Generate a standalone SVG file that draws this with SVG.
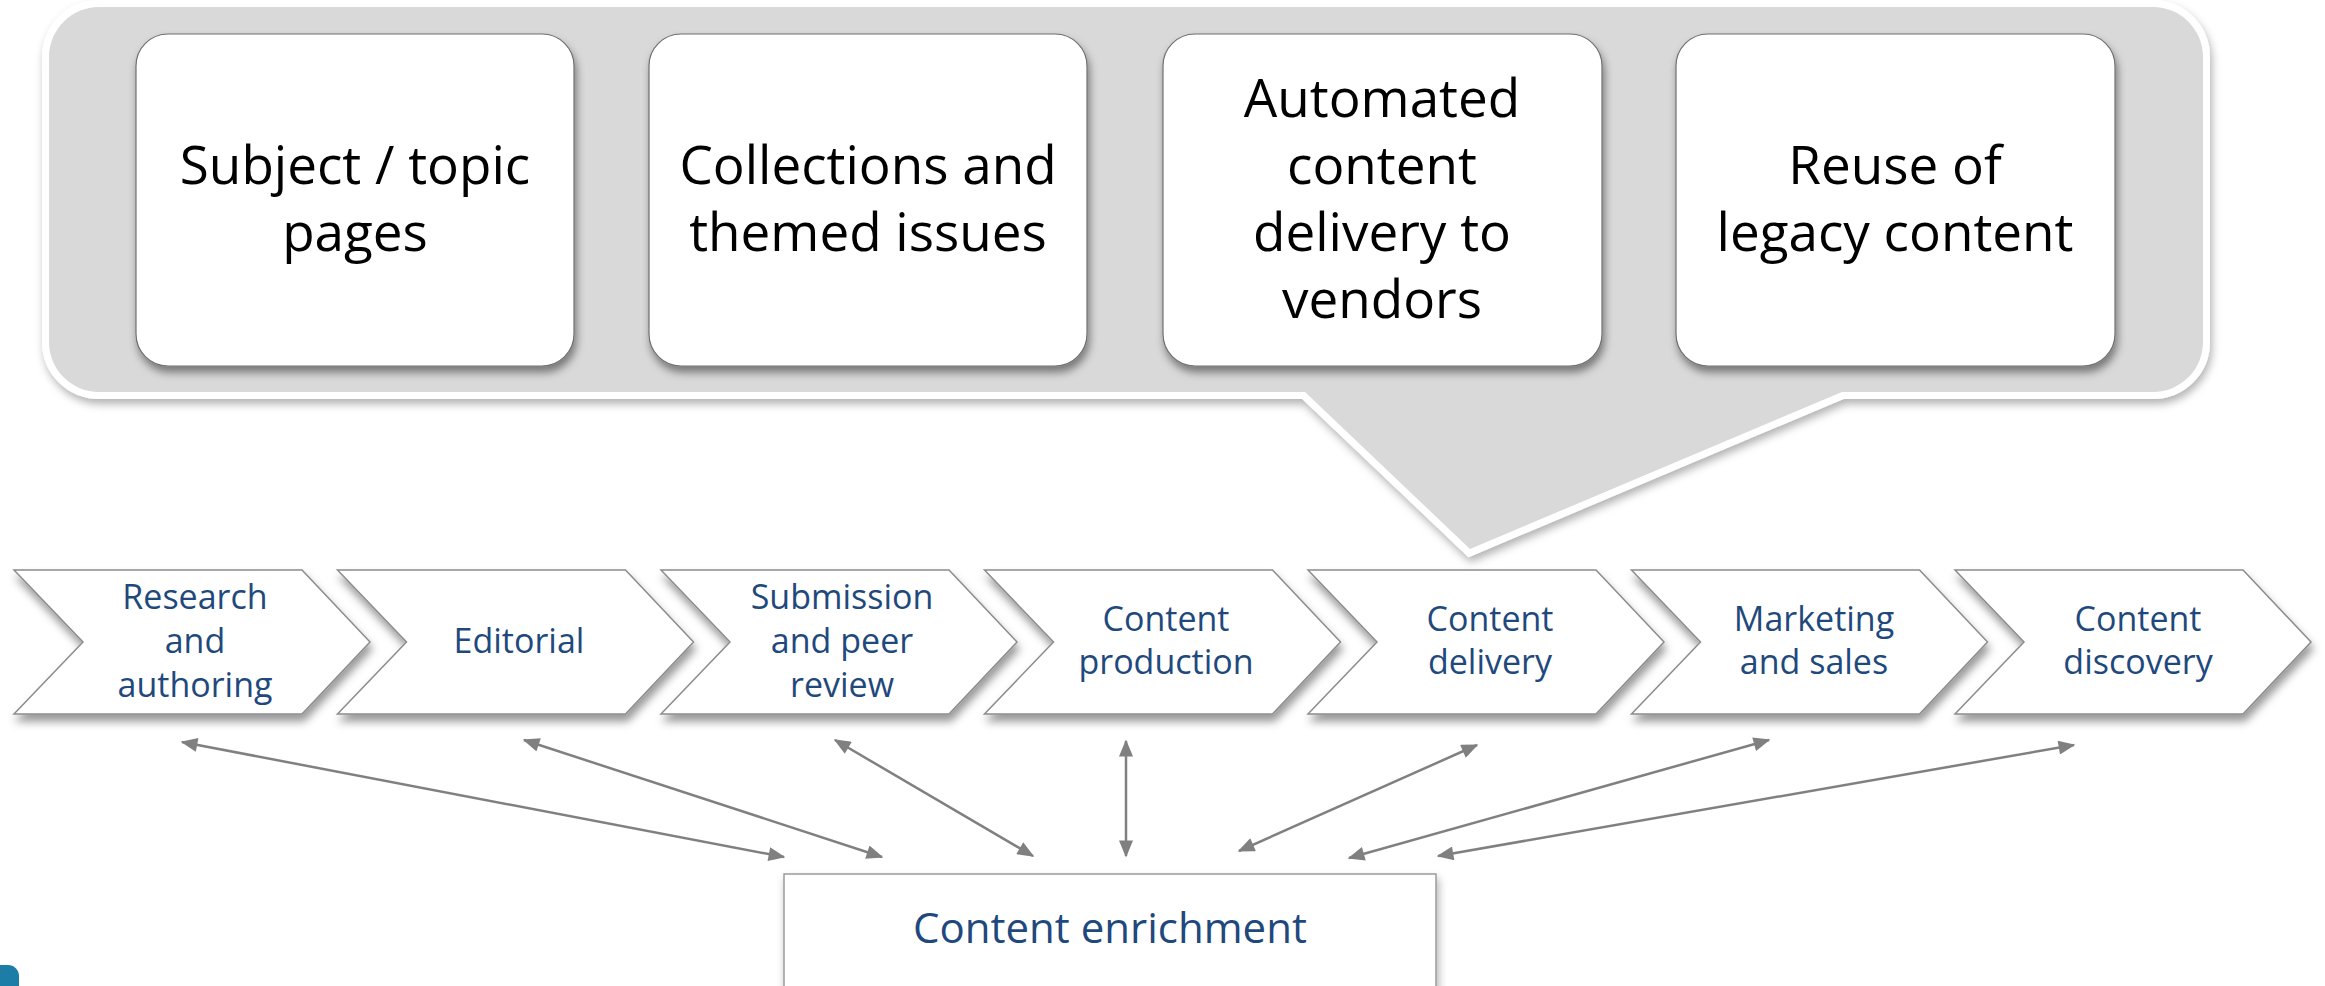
<svg xmlns="http://www.w3.org/2000/svg" width="2325" height="986" viewBox="0 0 2325 986">
<defs>
<style>
.box{fill:#fff;stroke:#6f6f6f;stroke-width:1.2;filter:url(#sh)}
.btxt{font-family:"Open Sans","Liberation Sans",sans-serif;font-size:53px;fill:#000;text-anchor:middle}
.chev{fill:#fff;stroke:#8c8c8c;stroke-width:1.5;filter:url(#sh2)}
.ctxt{font-family:"Open Sans","Liberation Sans",sans-serif;font-size:34px;fill:#1F497D;text-anchor:middle}
.conn{stroke:#808080;stroke-width:2.5;fill:none;marker-start:url(#ah);marker-end:url(#ah)}
</style>
<filter id="sh" x="-10%" y="-10%" width="120%" height="125%">
<feDropShadow dx="2" dy="6" stdDeviation="4" flood-color="#000" flood-opacity="0.45"/>
</filter>
<filter id="sh2" x="-10%" y="-10%" width="120%" height="130%">
<feDropShadow dx="2" dy="7" stdDeviation="4" flood-color="#000" flood-opacity="0.4"/>
</filter>
<filter id="sh3" x="-5%" y="-5%" width="110%" height="115%">
<feDropShadow dx="2" dy="5" stdDeviation="4" flood-color="#000" flood-opacity="0.3"/>
</filter>
<marker id="ah" viewBox="0 0 12 10" refX="11" refY="5" markerUnits="userSpaceOnUse" markerWidth="18" markerHeight="14" orient="auto-start-reverse">
<path d="M0,0 L12,5 L0,10 Z" fill="#808080"/>
</marker>
</defs>

<g id="callout">
<path d="M 99 7 H 2153 A 50 50 0 0 1 2203 57 V 342 A 50 50 0 0 1 2153 392 H 1842 L 1470 549 L 1305 392 H 99 A 50 50 0 0 1 49 342 V 57 A 50 50 0 0 1 99 7 Z" fill="#D9D9D9" stroke="#fff" stroke-width="14" paint-order="stroke" filter="url(#sh3)"/>
</g>

<g id="box-subject">
<rect class="box" x="136" y="34" width="438" height="332" rx="32"/>
<text class="btxt" x="355" y="184">Subject / topic</text>
<text class="btxt" x="355" y="251">pages</text>
</g>
<g id="box-collections">
<rect class="box" x="649" y="34" width="438" height="332" rx="32"/>
<text class="btxt" x="868" y="184">Collections and</text>
<text class="btxt" x="868" y="251">themed issues</text>
</g>
<g id="box-automated">
<rect class="box" x="1163" y="34" width="439" height="332" rx="32"/>
<text class="btxt" x="1382" y="117">Automated</text>
<text class="btxt" x="1382" y="184">content</text>
<text class="btxt" x="1382" y="251">delivery to</text>
<text class="btxt" x="1382" y="318">vendors</text>
</g>
<g id="box-reuse">
<rect class="box" x="1676" y="34" width="439" height="332" rx="32"/>
<text class="btxt" x="1895" y="184">Reuse of</text>
<text class="btxt" x="1895" y="251">legacy content</text>
</g>

<g id="chev-research">
<path class="chev" d="M14,570 H302 L370,642 L302,714 H14 L83,642 Z"/>
<text class="ctxt" x="195" y="609">Research</text>
<text class="ctxt" x="195" y="653">and</text>
<text class="ctxt" x="195" y="697">authoring</text>
</g>
<g id="chev-editorial">
<path class="chev" d="M337.5,570 H625.5 L693.5,642 L625.5,714 H337.5 L406.5,642 Z"/>
<text class="ctxt" x="519" y="653">Editorial</text>
</g>
<g id="chev-submission">
<path class="chev" d="M661,570 H949 L1017,642 L949,714 H661 L730,642 Z"/>
<text class="ctxt" x="842" y="609">Submission</text>
<text class="ctxt" x="842" y="653">and peer</text>
<text class="ctxt" x="842" y="697">review</text>
</g>
<g id="chev-production">
<path class="chev" d="M984.5,570 H1272.5 L1340.5,642 L1272.5,714 H984.5 L1053.5,642 Z"/>
<text class="ctxt" x="1166" y="631">Content</text>
<text class="ctxt" x="1166" y="674">production</text>
</g>
<g id="chev-delivery">
<path class="chev" d="M1308,570 H1596 L1664,642 L1596,714 H1308 L1377,642 Z"/>
<text class="ctxt" x="1490" y="631">Content</text>
<text class="ctxt" x="1490" y="674">delivery</text>
</g>
<g id="chev-marketing">
<path class="chev" d="M1631.5,570 H1919.5 L1987.5,642 L1919.5,714 H1631.5 L1700.5,642 Z"/>
<text class="ctxt" x="1814" y="631">Marketing</text>
<text class="ctxt" x="1814" y="674">and sales</text>
</g>
<g id="chev-discovery">
<path class="chev" d="M1955,570 H2243 L2311,642 L2243,714 H1955 L2024,642 Z"/>
<text class="ctxt" x="2138" y="631">Content</text>
<text class="ctxt" x="2138" y="674">discovery</text>
</g>

<g id="enrichment">
<rect x="784" y="874" width="652" height="130" fill="#fff" stroke="#9a9a9a" stroke-width="1.5" filter="url(#sh3)"/>
<text x="1110" y="943" font-family="'Open Sans','Liberation Sans',sans-serif" font-size="42" fill="#1F497D" text-anchor="middle">Content enrichment</text>
</g>

<g id="connectors">
<line class="conn" x1="182" y1="742" x2="784" y2="857"/>
<line class="conn" x1="524" y1="740" x2="882" y2="857"/>
<line class="conn" x1="835" y1="740" x2="1033" y2="856"/>
<line class="conn" x1="1126" y1="741" x2="1126" y2="856"/>
<line class="conn" x1="1477" y1="745" x2="1239" y2="851"/>
<line class="conn" x1="1769" y1="740" x2="1349" y2="858"/>
<line class="conn" x1="2074" y1="745" x2="1438" y2="856"/>
</g>

<g id="corner-mark">
<path d="M-5,965 H8 A11 11 0 0 1 19,976 V990 H-5 Z" fill="#1C7EA6"/>
</g>
</svg>
